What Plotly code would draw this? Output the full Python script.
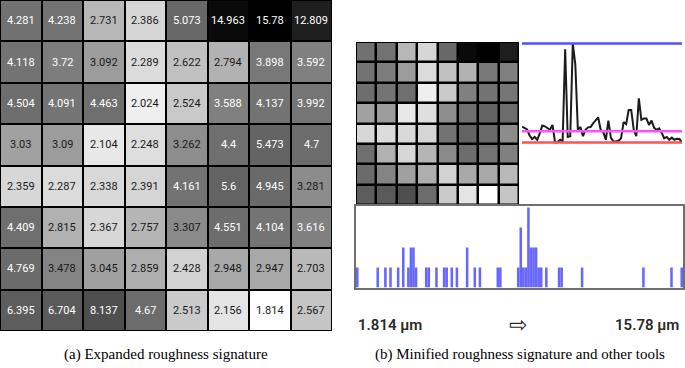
import plotly.graph_objects as go

W, H = 685, 368

# ---------------- data ----------------
roughness_um = [
    [4.281, 4.238, 2.731, 2.386, 5.073, 14.963, 15.78, 12.809],
    [4.118, 3.72, 3.092, 2.289, 2.622, 2.794, 3.898, 3.592],
    [4.504, 4.091, 4.463, 2.024, 2.524, 3.588, 4.137, 3.992],
    [3.03, 3.09, 2.104, 2.248, 3.262, 4.4, 5.473, 4.7],
    [2.359, 2.287, 2.338, 2.391, 4.161, 5.6, 4.945, 3.281],
    [4.409, 2.815, 2.367, 2.757, 3.307, 4.551, 4.104, 3.616],
    [4.769, 3.478, 3.045, 2.859, 2.428, 2.948, 2.947, 2.703],
    [6.395, 6.704, 8.137, 4.67, 2.513, 2.156, 1.814, 2.567],
]
min_um = 1.814
max_um = 15.78
mean_line_um = 3.4

profile_um = [4.04, 3.8, 3.65, 2.8, 2.3, 2.6, 2.2, 3.1, 4.2, 4.1,
              3.8, 3.6, 4.3, 1.85, 1.85, 2.2, 2.0, 14.963, 2.6, 2.7,
              15.78, 12.8, 3.6, 4.0, 2.7, 3.6, 3.95, 4.0, 4.5, 4.9,
              5.35, 3.6, 3.3, 2.2, 4.9, 2.5, 1.95, 1.95, 2.05, 2.4,
              4.7, 4.4, 6.4, 6.4, 3.6, 2.7, 8.04, 5.0, 5.2, 5.2,
              4.3, 4.9, 3.9, 3.6, 3.8, 3.2, 2.4, 2.6, 2.2, 2.5,
              2.2, 2.35, 2.3, 1.814]

n_bins = 128
hist_bin = [0, 8, 11, 13, 16, 18, 20, 21, 22, 23,
            27, 28, 31, 34, 35, 37, 39, 43, 46, 48,
            55, 56, 63, 64, 65, 66, 67, 68, 69, 70,
            71, 72, 74, 79, 80, 88, 112, 123, 127]
hist_count = [1, 1, 1, 1, 1, 2, 1, 2, 2, 1,
              1, 1, 1, 1, 1, 1, 1, 2, 1, 1,
              1, 1, 1, 3, 1, 1, 4, 2, 2, 2,
              1, 1, 1, 1, 1, 1, 1, 1, 1]

gray_stops_um = [1.814, 2.024, 2.156, 2.3, 2.4, 2.52, 2.6, 2.75, 2.95, 3.09,
                 3.3, 3.6, 4.0, 4.5, 5.0, 5.6, 6.5, 8.137, 12.809, 14.963, 15.78]
gray_levels = [255, 239, 228, 218, 213, 201, 195, 181, 168, 156,
               138, 128, 117, 110, 105, 99, 92, 79, 30, 10, 0]

caption_a = "(a) Expanded roughness signature"
caption_b = "(b) Minified roughness signature and other tools"
label_min = "1.814 µm"
label_max = "15.78 µm"
label_arrow = "⇨"

# ---------------- helpers ----------------
def xd(a, b):
    return [a / W, b / W]

def yd(top, bottom):
    return [1 - bottom / H, 1 - top / H]

span = max_um - min_um
colorscale = [[(v - min_um) / span, f"rgb({g},{g},{g})"] for v, g in zip(gray_stops_um, gray_levels)]
colorscale[0][0] = 0.0
colorscale[-1][0] = 1.0

fig = go.Figure()

# left expanded grid
fig.add_trace(go.Heatmap(z=roughness_um, colorscale=colorscale, zmin=min_um, zmax=max_um,
                         showscale=False, xgap=2, ygap=2, hoverinfo="skip",
                         xaxis="x", yaxis="y"))
# mini grid
fig.add_trace(go.Heatmap(z=roughness_um, colorscale=colorscale, zmin=min_um, zmax=max_um,
                         showscale=False, xgap=2.5, ygap=2.5, hoverinfo="skip",
                         xaxis="x2", yaxis="y2"))

# profile line chart
idx = list(range(len(profile_um)))
fig.add_trace(go.Scatter(x=idx, y=profile_um, mode="lines",
                         line=dict(color="#1c1c1c", width=2), hoverinfo="skip",
                         xaxis="x3", yaxis="y3"))
for val, col in [(max_um, "#5050ff"), (mean_line_um, "#ff50ff"), (min_um, "#ff5050")]:
    fig.add_trace(go.Scatter(x=[idx[0], idx[-1]], y=[val, val], mode="lines",
                             line=dict(color=col, width=2.5), hoverinfo="skip",
                             xaxis="x3", yaxis="y3"))

# histogram
bw = span / n_bins
fig.add_trace(go.Bar(x=[min_um + (b + 0.5) * bw for b in hist_bin], y=hist_count,
                     width=[bw] * len(hist_bin),
                     marker=dict(color="rgba(70,70,255,0.82)", line=dict(width=0)),
                     hoverinfo="skip", xaxis="x4", yaxis="y4"))

hid = dict(visible=False, showgrid=False, zeroline=False, fixedrange=True)

# line chart y range: red(min) at y=142.5 px, blue(max) at 43.5 px
ppu = (142.5 - 43.5) / span
y3_lo = min_um - (147 - 142.5) / ppu
y3_hi = max_um + (43.5 - 39) / ppu

box = dict(visible=True, showticklabels=False, ticks="", showgrid=False, zeroline=False,
           showline=True, mirror=True, linecolor="#707070", linewidth=1.5, fixedrange=True)

fig.update_layout(
    width=W, height=H, margin=dict(l=0, r=0, t=0, b=0),
    paper_bgcolor="white", plot_bgcolor="white", showlegend=False,
    xaxis=dict(domain=xd(0, 332), range=[-0.5, 7.5], anchor="y", **hid),
    yaxis=dict(domain=yd(0, 331), range=[7.5, -0.5], anchor="x", **hid),
    xaxis2=dict(domain=xd(356, 519), range=[-0.5, 7.5], anchor="y2", **hid),
    yaxis2=dict(domain=yd(42, 205), range=[7.5, -0.5], anchor="x2", **hid),
    xaxis3=dict(domain=xd(522, 682), range=[idx[0], idx[-1]], anchor="y3", **hid),
    yaxis3=dict(domain=yd(39, 147), range=[y3_lo, y3_hi], anchor="x3", **hid),
    xaxis4=dict(domain=xd(356, 683), range=[min_um, max_um], anchor="y4", **box),
    yaxis4=dict(domain=yd(206, 287.5), range=[0, 4.075], anchor="x4", **box),
)

shapes = []
for xa, ya in [("x", "y"), ("x2", "y2")]:
    shapes.append(dict(type="rect", xref=xa, yref=ya, x0=-0.5, x1=7.5, y0=-0.5, y1=7.5,
                       fillcolor="black", line=dict(width=0), layer="below"))
fig.update_layout(shapes=shapes)

ann = []
for r, row in enumerate(roughness_um):
    for c, v in enumerate(row):
        ann.append(dict(x=c, y=r, xref="x", yref="y", text=f"{v}", showarrow=False,
                        font=dict(family="Roboto", size=11,
                                  color="white" if v > 3.5 else "#1a1a1a")))

lab_font = dict(family="Roboto", size=15, color="#2a2a2a", weight=600)
ann.append(dict(x=356 / W, y=1 - 325 / H, xref="paper", yref="paper", text=label_min,
                showarrow=False, xanchor="left", yanchor="middle", font=lab_font))
ann.append(dict(x=681 / W, y=1 - 325 / H, xref="paper", yref="paper", text=label_max,
                showarrow=False, xanchor="right", yanchor="middle", font=lab_font))
ann.append(dict(x=518 / W, y=1 - 324 / H, xref="paper", yref="paper", text=label_arrow,
                showarrow=False, xanchor="center", yanchor="middle",
                font=dict(family="DejaVu Sans", size=22, color="#2a2a2a")))
ann.append(dict(x=166 / W, y=1 - 354 / H, xref="paper", yref="paper", text=caption_a,
                showarrow=False, xanchor="center", yanchor="middle",
                font=dict(family="Liberation Serif", size=15, color="black")))
ann.append(dict(x=520 / W, y=1 - 354 / H, xref="paper", yref="paper", text=caption_b,
                showarrow=False, xanchor="center", yanchor="middle",
                font=dict(family="Liberation Serif", size=15, color="black")))
fig.update_layout(annotations=ann)

fig.write_html("out.html", config={"displayModeBar": False},
               post_script="document.body.style.margin='0px';")
